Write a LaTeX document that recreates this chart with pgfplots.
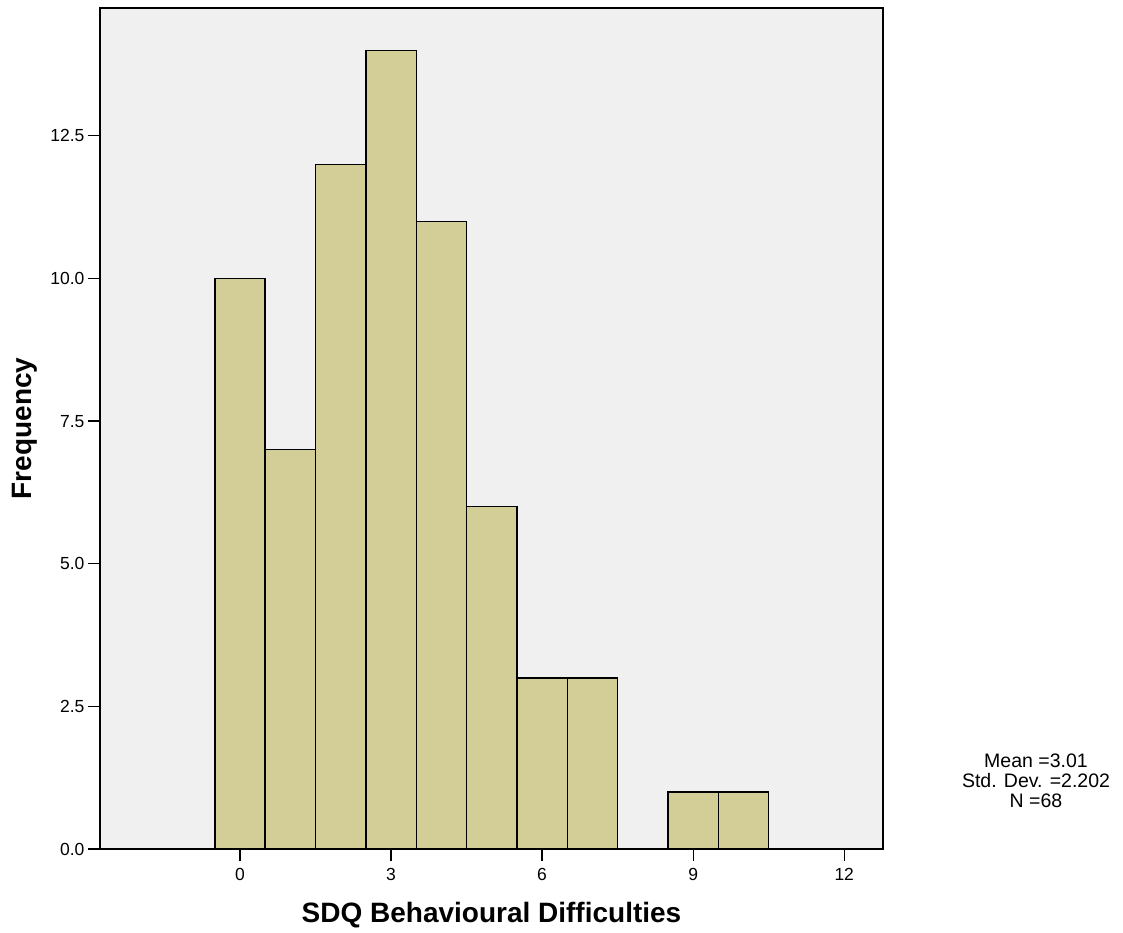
\documentclass[border=0pt]{standalone}
\usepackage{pgfplots}
\pgfplotsset{compat=1.18}
\usepackage{fontspec}
\setmainfont{Liberation Sans}
\definecolor{barfill}{RGB}{211,206,151}
\definecolor{bgfill}{RGB}{240,240,240}
\begin{document}
\begin{tikzpicture}[x=1pt,y=1pt]
\useasboundingbox (0,0) rectangle (1123,932);
\begin{axis}[
  at={(100pt,83pt)}, anchor=south west,
  scale only axis, width=783pt, height=841pt,
  xmin=-2.78, xmax=12.77, ymin=0, ymax=14.74,
  axis background/.style={fill=bgfill},
  axis line style={black, line width=1.5pt},
  xtick={0,3,6,9,12}, ytick={0,2.5,5,7.5,10,12.5},
  tick align=outside, tick pos=left,
  major tick length=12pt,
  tick style={black, line width=1.3pt},
  /pgf/number format/assume math mode=true,
  yticklabel style={/pgf/number format/fixed, /pgf/number format/fixed zerofill, /pgf/number format/precision=1},
  xticklabel style={yshift=-4pt, /pgf/number format/fixed, /pgf/number format/precision=0},
  ticklabel style={font=\fontsize{17.5}{21}\selectfont},
  xlabel={\textbf{SDQ Behavioural Difficulties}},
  ylabel={\textbf{Frequency}},
  every axis x label/.style={at={(axis description cs:0.5,-0.0785)}, anchor=center, font=\fontsize{28}{32}\selectfont},
  every axis y label/.style={at={(axis description cs:-0.0958,0.5)}, rotate=90, anchor=center, font=\fontsize{28}{32}\selectfont},
]
\addplot[ybar interval, fill=barfill, draw=black, line width=1.4pt] coordinates {
(-0.5,10) (0.5,7) (1.5,12) (2.5,14) (3.5,11) (4.5,6) (5.5,3) (6.5,3) (7.5,3)
};
\addplot[ybar interval, fill=barfill, draw=black, line width=1.4pt] coordinates {
(8.5,1) (9.5,1) (10.5,1)
};
\end{axis}
\node[align=center, font=\fontsize{19.5}{20}\selectfont] at (1036pt,151pt) {Mean =3.01\\Std. Dev. =2.202\\N =68};
\end{tikzpicture}
\end{document}
